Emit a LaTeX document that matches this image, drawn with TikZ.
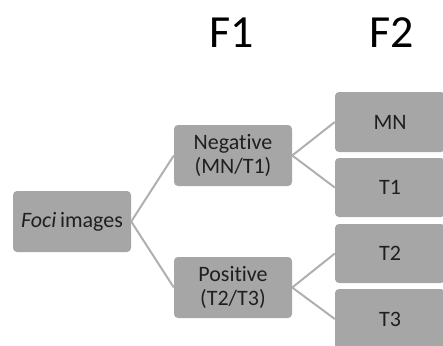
\documentclass[tikz,border=0pt]{standalone}
\usepackage{fontspec}
\setmainfont{Carlito}[Ligatures=NoCommon]
\begin{document}
\begin{tikzpicture}[x=1pt,y=-1pt,
  box/.style={draw=none, fill=boxgray, rounded corners=4pt, inner sep=0pt,
    align=center, font=\fontsize{22}{24}\selectfont, text=black!88},
  link/.style={draw=linkgray, line width=2pt},
  head/.style={font=\fontsize{46}{50}\selectfont, text=black}]
\definecolor{boxgray}{HTML}{A6A6A6}
\definecolor{linkgray}{HTML}{B0B0B0}
\useasboundingbox (0,0) rectangle (443,345);
\clip (0,0) rectangle (443,345);
% column headings
\node[head] (hf1) at (232,33) {F1};
\node[head] (hf2) at (392,33) {F2};
% root
\node[box, minimum width=118pt, minimum height=61pt] (root) at (72,221.5) {\textit{Foci}\,images};
% first level
\node[box, minimum width=118pt, minimum height=61pt] (neg) at (233,155.5) {Negative\\(MN/T1)};
\node[box, minimum width=118pt, minimum height=61pt] (pos) at (233,287.5) {Positive\\(T2/T3)};
% second level
\node[box, minimum width=110pt, minimum height=60pt] (mn) at (390,122) {MN};
\node[box, minimum width=110pt, minimum height=59pt] (t1) at (390,187.5) {T1};
\node[box, minimum width=110pt, minimum height=59pt] (t2) at (390,253.5) {T2};
\node[box, minimum width=110pt, minimum height=60pt] (t3) at (390,319) {T3};
% connectors
\draw[link] (root.east) -- (neg.west);
\draw[link] (root.east) -- (pos.west);
\draw[link] (neg.east) -- (mn.west);
\draw[link] (neg.east) -- (t1.west);
\draw[link] (pos.east) -- (t2.west);
\draw[link] (pos.east) -- (t3.west);
\end{tikzpicture}
\end{document}
